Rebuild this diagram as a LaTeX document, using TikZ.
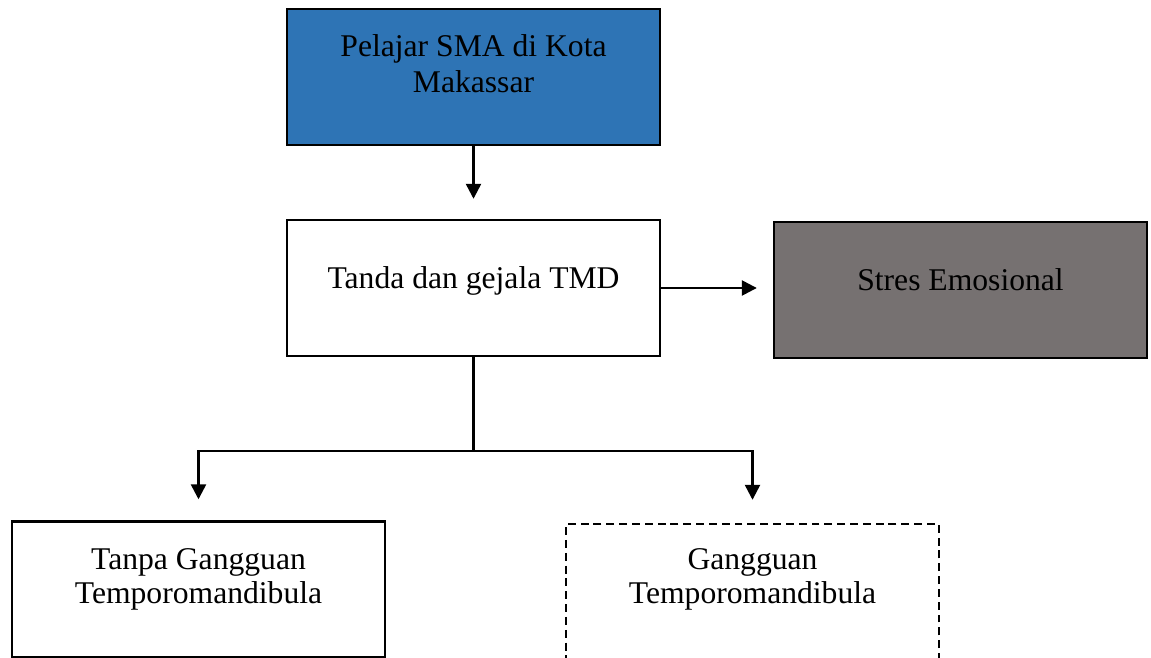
\documentclass[tikz,border=0pt]{standalone}
\usepackage{fontspec}
\setmainfont{Liberation Serif}
\usetikzlibrary{arrows.meta,positioning}
\definecolor{pelajar}{HTML}{2E74B5}
\definecolor{stres}{HTML}{767171}
\tikzset{
  box/.style={draw=black,line width=1.4pt,minimum width=7.46cm,minimum height=2.72cm,inner sep=0pt},
  txt/.style={font=\fontsize{18}{20.5}\selectfont,align=center,yshift=#1},
  txt/.default=0.15cm,
  txtb/.style={font=\fontsize{18}{19.5}\selectfont,align=center,yshift=#1},
  arr/.style={-{Triangle[length=0.3cm,width=0.3cm]},line width=1.4pt},
}
\begin{document}
\begin{tikzpicture}[x=0.02cm,y=-0.02cm]
  \useasboundingbox (0,0) rectangle (1151,658);
  \clip (0,0) rectangle (1151,658);
  \node[box,fill=pelajar,label={[txt=0.27cm]center:{Pelajar SMA di Kota\\Makassar}}] (pelajar) at (473.5,77) {};
  \node[box,label={[txt]center:Tanda dan gejala TMD}] (tanda) at (473.5,288) {};
  \node[box,fill=stres,label={[txt=0.2cm]center:Stres Emosional}] (stres) at (960.5,290) {};
  \node[box,label={[txtb=0.2cm]center:{Tanpa Gangguan\\Temporomandibula}}] (tanpa) at (198.5,589.5) {};
  \node[box,dash pattern=on 4.5pt off 2.8pt,label={[txtb=0.25cm]center:{Gangguan\\Temporomandibula}}] (gangguan) at (752.5,592) {};

  \draw[arr,shorten >=0.4cm] (pelajar.south) -- (tanda.north);
  \draw[arr,shorten >=0.32cm] (tanda.east) -- (stres.west |- tanda.east);
  \draw[line width=1.4pt] (tanda.south) -- ++(0,94) coordinate (cabang);
  \draw[arr,shorten >=0.42cm] (cabang) -| (tanpa.north);
  \draw[arr,shorten >=0.46cm] (cabang) -| (gangguan.north);
\end{tikzpicture}
\end{document}
